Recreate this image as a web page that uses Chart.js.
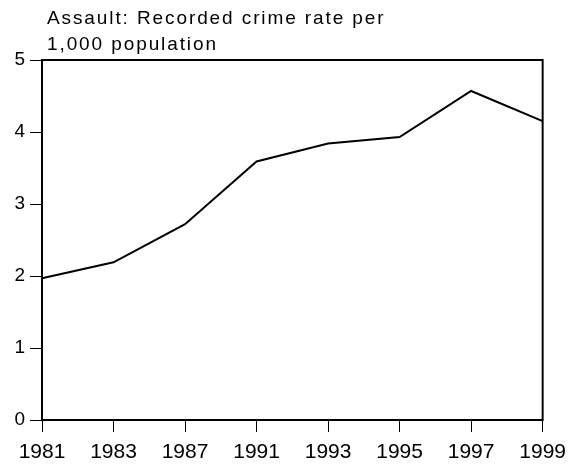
<!DOCTYPE html>
<html>
<head>
<meta charset="utf-8">
<script src="https://cdn.jsdelivr.net/npm/chart.js@4"></script>
<style>
  html, body { margin: 0; padding: 0; background: #ffffff; }
  #wrap { width: 574px; height: 464px; }
</style>
</head>
<body>
<div id="wrap"><canvas id="c" width="574" height="464"></canvas></div>
<script>
const titleLines = ["Assault: Recorded crime rate per", "1,000 population"];
const years = ["1981", "1983", "1987", "1991", "1993", "1995", "1997", "1999"];
const assaultRate = [1.97, 2.19, 2.72, 3.59, 3.84, 3.93, 4.57, 4.15];
const yTicks = [0, 1, 2, 3, 4, 5];

const FONT = "'Liberation Sans', Arial, sans-serif";

const frameAndTitle = {
  id: 'frameAndTitle',
  afterDraw(chart) {
    const { ctx, chartArea } = chart;
    ctx.save();
    ctx.strokeStyle = '#000';
    ctx.lineWidth = 2;
    ctx.strokeRect(chartArea.left, chartArea.top, chartArea.right - chartArea.left, chartArea.bottom - chartArea.top);
    ctx.fillStyle = '#000';
    ctx.font = '19px ' + FONT;
    try { ctx.letterSpacing = '1.9px'; } catch (e) {}
    ctx.textAlign = 'left';
    ctx.textBaseline = 'alphabetic';
    ctx.fillText(titleLines[0], chartArea.left + 5, chartArea.top - 36);
    ctx.fillText(titleLines[1], chartArea.left + 5, chartArea.top - 10);
    try { ctx.letterSpacing = '0px'; } catch (e) {}
    ctx.restore();
  }
};

new Chart(document.getElementById('c'), {
  type: 'line',
  data: {
    labels: years,
    datasets: [{
      data: assaultRate,
      borderColor: '#000',
      borderWidth: 2,
      pointRadius: 0,
      tension: 0,
      fill: false
    }]
  },
  options: {
    responsive: false,
    animation: false,
    devicePixelRatio: 1,
    layout: { padding: { top: 60, right: 29, left: 0, bottom: 0 } },
    plugins: { legend: { display: false }, tooltip: { enabled: false }, title: { display: false } },
    scales: {
      x: {
        type: 'category',
        offset: false,
        grid: { display: true, drawOnChartArea: false, drawTicks: true, tickLength: 12, color: '#000', lineWidth: 1 },
        border: { display: false },
        ticks: { color: '#000', font: { family: FONT, size: 21 }, padding: 8, maxRotation: 0, autoSkip: false },
        afterFit(scale) { scale.height = 44; }
      },
      y: {
        min: 0, max: 5,
        afterBuildTicks(scale) { scale.ticks = yTicks.map(v => ({ value: v })); },
        grid: { display: true, drawOnChartArea: false, drawTicks: true, tickLength: 12, color: '#000', lineWidth: 1 },
        border: { display: false },
        ticks: { color: '#000', font: { family: FONT, size: 19 }, padding: 5 },
        afterFit(scale) { scale.width = 42; }
      }
    }
  },
  plugins: [frameAndTitle]
});
</script>
</body>
</html>
